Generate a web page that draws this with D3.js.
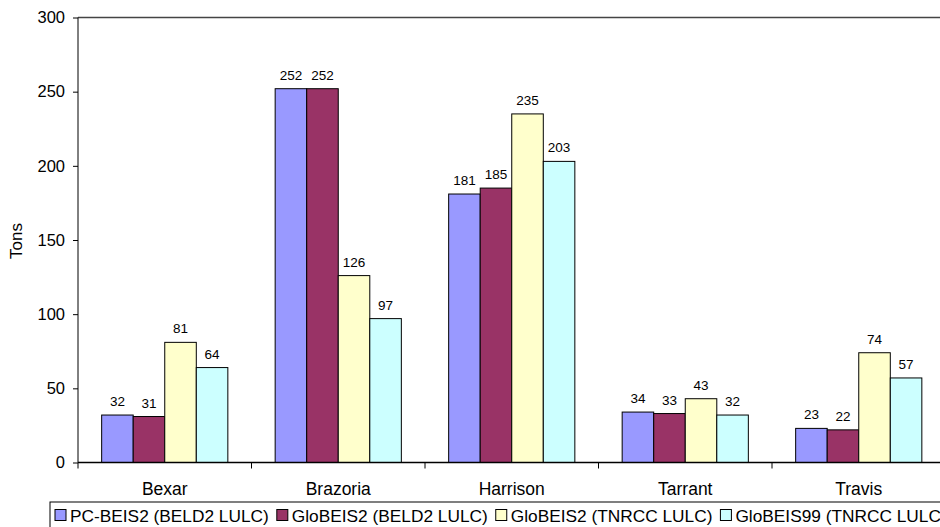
<!DOCTYPE html>
<html>
<head>
<meta charset="utf-8">
<script src="https://cdn.jsdelivr.net/npm/d3@7"></script>
<style>
  html, body { margin: 0; padding: 0; background: #fff; }
  svg { display: block; font-family: "Liberation Sans", Arial, sans-serif; }
</style>
</head>
<body>
<svg id="chart" width="940" height="527"></svg>
<script>
// Counties on the x axis
const counties = ["Bexar", "Brazoria", "Harrison", "Tarrant", "Travis"];

// Model runs (one bar per run in each county group)
const seriesNames = [
  "PC-BEIS2 (BELD2 LULC)",
  "GloBEIS2 (BELD2 LULC)",
  "GloBEIS2 (TNRCC LULC)",
  "GloBEIS99 (TNRCC LULC)"
];
const seriesColors = ["#9999FF", "#993366", "#FFFFCC", "#CCFFFF"];

// Emissions in tons, by county, per model run
const pcBeis2Beld2   = [32, 252, 181, 34, 23];
const gloBeis2Beld2  = [31, 252, 185, 33, 22];
const gloBeis2Tnrcc  = [81, 126, 235, 43, 74];
const gloBeis99Tnrcc = [64, 97, 203, 32, 57];

const yTicks = [0, 50, 100, 150, 200, 250, 300];

const seriesValues = [pcBeis2Beld2, gloBeis2Beld2, gloBeis2Tnrcc, gloBeis99Tnrcc];

const svg = d3.select("#chart");
const plotLeft = 78, plotRight = 945.5, plotTop = 17.5, plotBottom = 462.5;

const x = d3.scaleBand().domain(counties).range([plotLeft, plotRight]).paddingInner(0).paddingOuter(0);
// gap width of 150% of a bar: 4 bars + 1.5 bars of gap per category
const barW = x.bandwidth() / 5.5;
const y = d3.scaleLinear().domain([0, 300]).range([plotBottom, plotTop]);

// top border line at the 300 level
svg.append("line")
  .attr("x1", plotLeft).attr("x2", 940)
  .attr("y1", y(300)).attr("y2", y(300))
  .attr("stroke", "#444").attr("stroke-width", 1.3);

// bars with value labels
const groups = svg.append("g").selectAll("g")
  .data(counties)
  .join("g")
  .attr("transform", d => `translate(${x(d) + 0.75 * barW},0)`);

groups.each(function(county, ci) {
  const g = d3.select(this);
  seriesValues.forEach((vals, si) => {
    const v = vals[ci];
    g.append("rect")
      .attr("x", si * barW)
      .attr("y", y(v))
      .attr("width", barW)
      .attr("height", y(0) - y(v))
      .attr("fill", seriesColors[si])
      .attr("stroke", "#000")
      .attr("stroke-width", 1);
    g.append("text")
      .attr("x", si * barW + barW / 2)
      .attr("y", y(v) - 9)
      .attr("text-anchor", "middle")
      .attr("font-size", 13.5)
      .attr("fill", "#000")
      .text(v);
  });
});

// y axis
const yAxis = d3.axisLeft(y).tickValues(yTicks).tickSize(5).tickPadding(8).tickFormat(d3.format("d"));
const gy = svg.append("g").attr("transform", `translate(${plotLeft},0)`).call(yAxis);
gy.select(".domain").attr("stroke", "#000").attr("d", `M0,${plotTop}V${plotBottom}`);
gy.selectAll(".tick line").attr("stroke", "#000");
gy.selectAll(".tick text").attr("font-size", 16.5).attr("font-family", "Liberation Sans, Arial, sans-serif").attr("fill", "#000");

// x axis with ticks between categories
const gx = svg.append("g").attr("transform", `translate(0,${plotBottom})`);
gx.append("line").attr("x1", plotLeft).attr("x2", 940).attr("y1", 0).attr("y2", 0)
  .attr("stroke", "#000").attr("stroke-width", 1.3);
gx.selectAll("line.sep")
  .data(counties)
  .join("line")
  .attr("class", "sep")
  .attr("x1", d => x(d)).attr("x2", d => x(d))
  .attr("y1", 0).attr("y2", 6)
  .attr("stroke", "#000");
gx.selectAll("text")
  .data(counties)
  .join("text")
  .attr("x", d => x(d) + x.bandwidth() / 2)
  .attr("y", 32)
  .attr("text-anchor", "middle")
  .attr("font-size", 17.5)
  .attr("fill", "#000")
  .text(d => d);

// y axis title
svg.append("text")
  .attr("transform", "translate(22,241) rotate(-90)")
  .attr("text-anchor", "middle")
  .attr("font-size", 17)
  .attr("fill", "#000")
  .text("Tons");

// legend
const legend = svg.append("g");
legend.append("rect")
  .attr("x", 50).attr("y", 502).attr("width", 900).attr("height", 40)
  .attr("fill", "#fff").attr("stroke", "#000").attr("stroke-width", 1);
let lx = 55;
seriesNames.forEach((name, i) => {
  legend.append("rect")
    .attr("x", lx).attr("y", 509.5).attr("width", 11).attr("height", 11)
    .attr("fill", seriesColors[i]).attr("stroke", "#000").attr("stroke-width", 1);
  const t = legend.append("text")
    .attr("x", lx + 15).attr("y", 521.5)
    .attr("font-size", 17.3)
    .attr("fill", "#000")
    .text(name);
  lx += 15 + t.node().getComputedTextLength() + 8;
});
</script>
</body>
</html>
